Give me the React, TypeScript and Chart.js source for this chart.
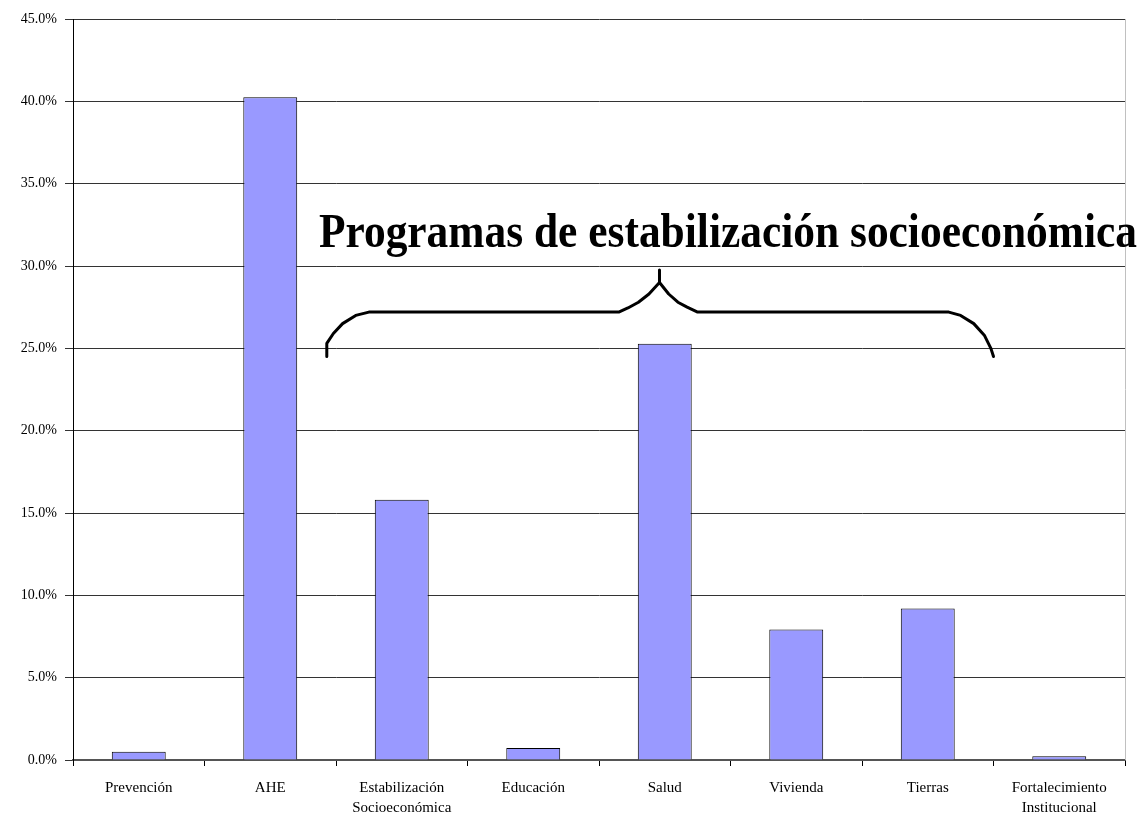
import React, { useEffect, useRef } from "react";
import { Chart, registerables } from "chart.js";

Chart.register(...registerables);

const categories: (string | string[])[] = [
  "Prevención",
  "AHE",
  ["Estabilización", "Socioeconómica"],
  "Educación",
  "Salud",
  "Vivienda",
  "Tierras",
  ["Fortalecimiento", "Institucional"],
];

const values: number[] = [0.5, 40.25, 15.8, 0.73, 25.28, 7.93, 9.2, 0.23];

const yTicks: number[] = [0, 5, 10, 15, 20, 25, 30, 35, 40, 45];

const annotationTitle = "Programas de estabilización socioeconómica";
// title anchor in data space: [category index, percent]
const titleAnchor: [number, number] = [1.37, 31.15];

// brace drawn in data space: [category index, percent]
const braceIdx: number[] = [1.43, 1.43, 1.48, 1.55, 1.65, 1.75, 3.65, 3.72, 3.8, 3.88, 3.96, 3.96, 3.96, 4.03, 4.1, 4.17, 4.25, 6.16, 6.25, 6.35, 6.43, 6.48, 6.5];
const bracePct: number[] = [24.5, 25.3, 25.9, 26.5, 27.0, 27.2, 27.2, 27.45, 27.8, 28.3, 29.0, 29.75, 29.0, 28.3, 27.8, 27.5, 27.2, 27.2, 27.0, 26.5, 25.8, 25.0, 24.5];

const serif = "'Liberation Serif', 'Times New Roman', serif";

const overlayPlugin = {
  id: "overlay",
  afterDraw(chart: any) {
    const { ctx, chartArea, scales } = chart;
    const xs = scales.x;
    const ys = scales.y;
    ctx.save();
    // right border
    ctx.strokeStyle = "#c0c0c0";
    ctx.lineWidth = 1;
    ctx.beginPath();
    ctx.moveTo(Math.round(chartArea.right) + 0.5, chartArea.top);
    ctx.lineTo(Math.round(chartArea.right) + 0.5, chartArea.bottom);
    ctx.stroke();

    // brace
    ctx.strokeStyle = "#000";
    ctx.lineWidth = 3;
    ctx.lineJoin = "round";
    ctx.lineCap = "round";
    ctx.beginPath();
    braceIdx.forEach((ix, i) => {
      const px = xs.getPixelForValue(ix);
      const py = ys.getPixelForValue(bracePct[i]);
      if (i === 0) ctx.moveTo(px, py);
      else ctx.lineTo(px, py);
    });
    ctx.stroke();

    // title text
    ctx.fillStyle = "#000";
    ctx.font = `bold 48px ${serif}`;
    ctx.textBaseline = "alphabetic";
    ctx.textAlign = "left";
    const tx = xs.getPixelForValue(titleAnchor[0]);
    const ty = ys.getPixelForValue(titleAnchor[1]);
    const targetRight = chart.width - 3;
    const w = ctx.measureText(annotationTitle).width;
    const scaleX = Math.min(1, (targetRight - tx) / w);
    ctx.translate(tx, ty);
    ctx.scale(scaleX, 1);
    ctx.fillText(annotationTitle, 0, 0);
    ctx.restore();
  },
};

export default function App() {
  const ref = useRef<HTMLCanvasElement | null>(null);

  useEffect(() => {
    document.body.style.margin = "0";
    const canvas = ref.current;
    if (!canvas) return;
    const chart = new Chart(canvas, {
      type: "bar",
      data: {
        labels: categories,
        datasets: [
          {
            data: values,
            backgroundColor: "#9999FF",
            borderColor: "#000000",
            borderWidth: 1,
            barPercentage: 0.41,
            categoryPercentage: 1,
          },
        ],
      },
      options: {
        animation: false,
        responsive: true,
        maintainAspectRatio: false,
        layout: { padding: { top: 19, right: 15, left: 0, bottom: 0 } },
        plugins: {
          legend: { display: false },
          tooltip: { enabled: false },
          title: { display: false },
        },
        scales: {
          x: {
            grid: {
              display: true,
              drawOnChartArea: false,
              drawTicks: true,
              tickLength: 6,
              offset: true,
              color: "#000",
            },
            border: { display: true, color: "#555", width: 2 },
            ticks: {
              autoSkip: false,
              maxRotation: 0,
              minRotation: 0,
              color: "#000",
              padding: 12,
              font: { family: serif, size: 15, lineHeight: 1.35 },
            },
            afterFit(scale: any) {
              scale.height = 57;
            },
          },
          y: {
            min: 0,
            max: 45,
            grid: {
              color: "#333",
              lineWidth: 1,
              tickLength: 8,
              drawTicks: true,
            },
            border: { display: true, color: "#000", width: 1 },
            ticks: {
              stepSize: 5,
              color: "#000",
              padding: 8,
              font: { family: serif, size: 14 },
              callback: (v: any) => Number(v).toFixed(1) + "%",
            },
            afterBuildTicks(scale: any) {
              scale.ticks = yTicks.map((v) => ({ value: v }));
            },
            afterFit(scale: any) {
              scale.width = 73;
            },
          },
        },
      },
      plugins: [overlayPlugin],
    });
    return () => chart.destroy();
  }, []);

  return (
    <div style={{ position: "absolute", left: 0, top: 0, width: 1140, height: 817 }}>
      <canvas ref={ref} />
    </div>
  );
}
